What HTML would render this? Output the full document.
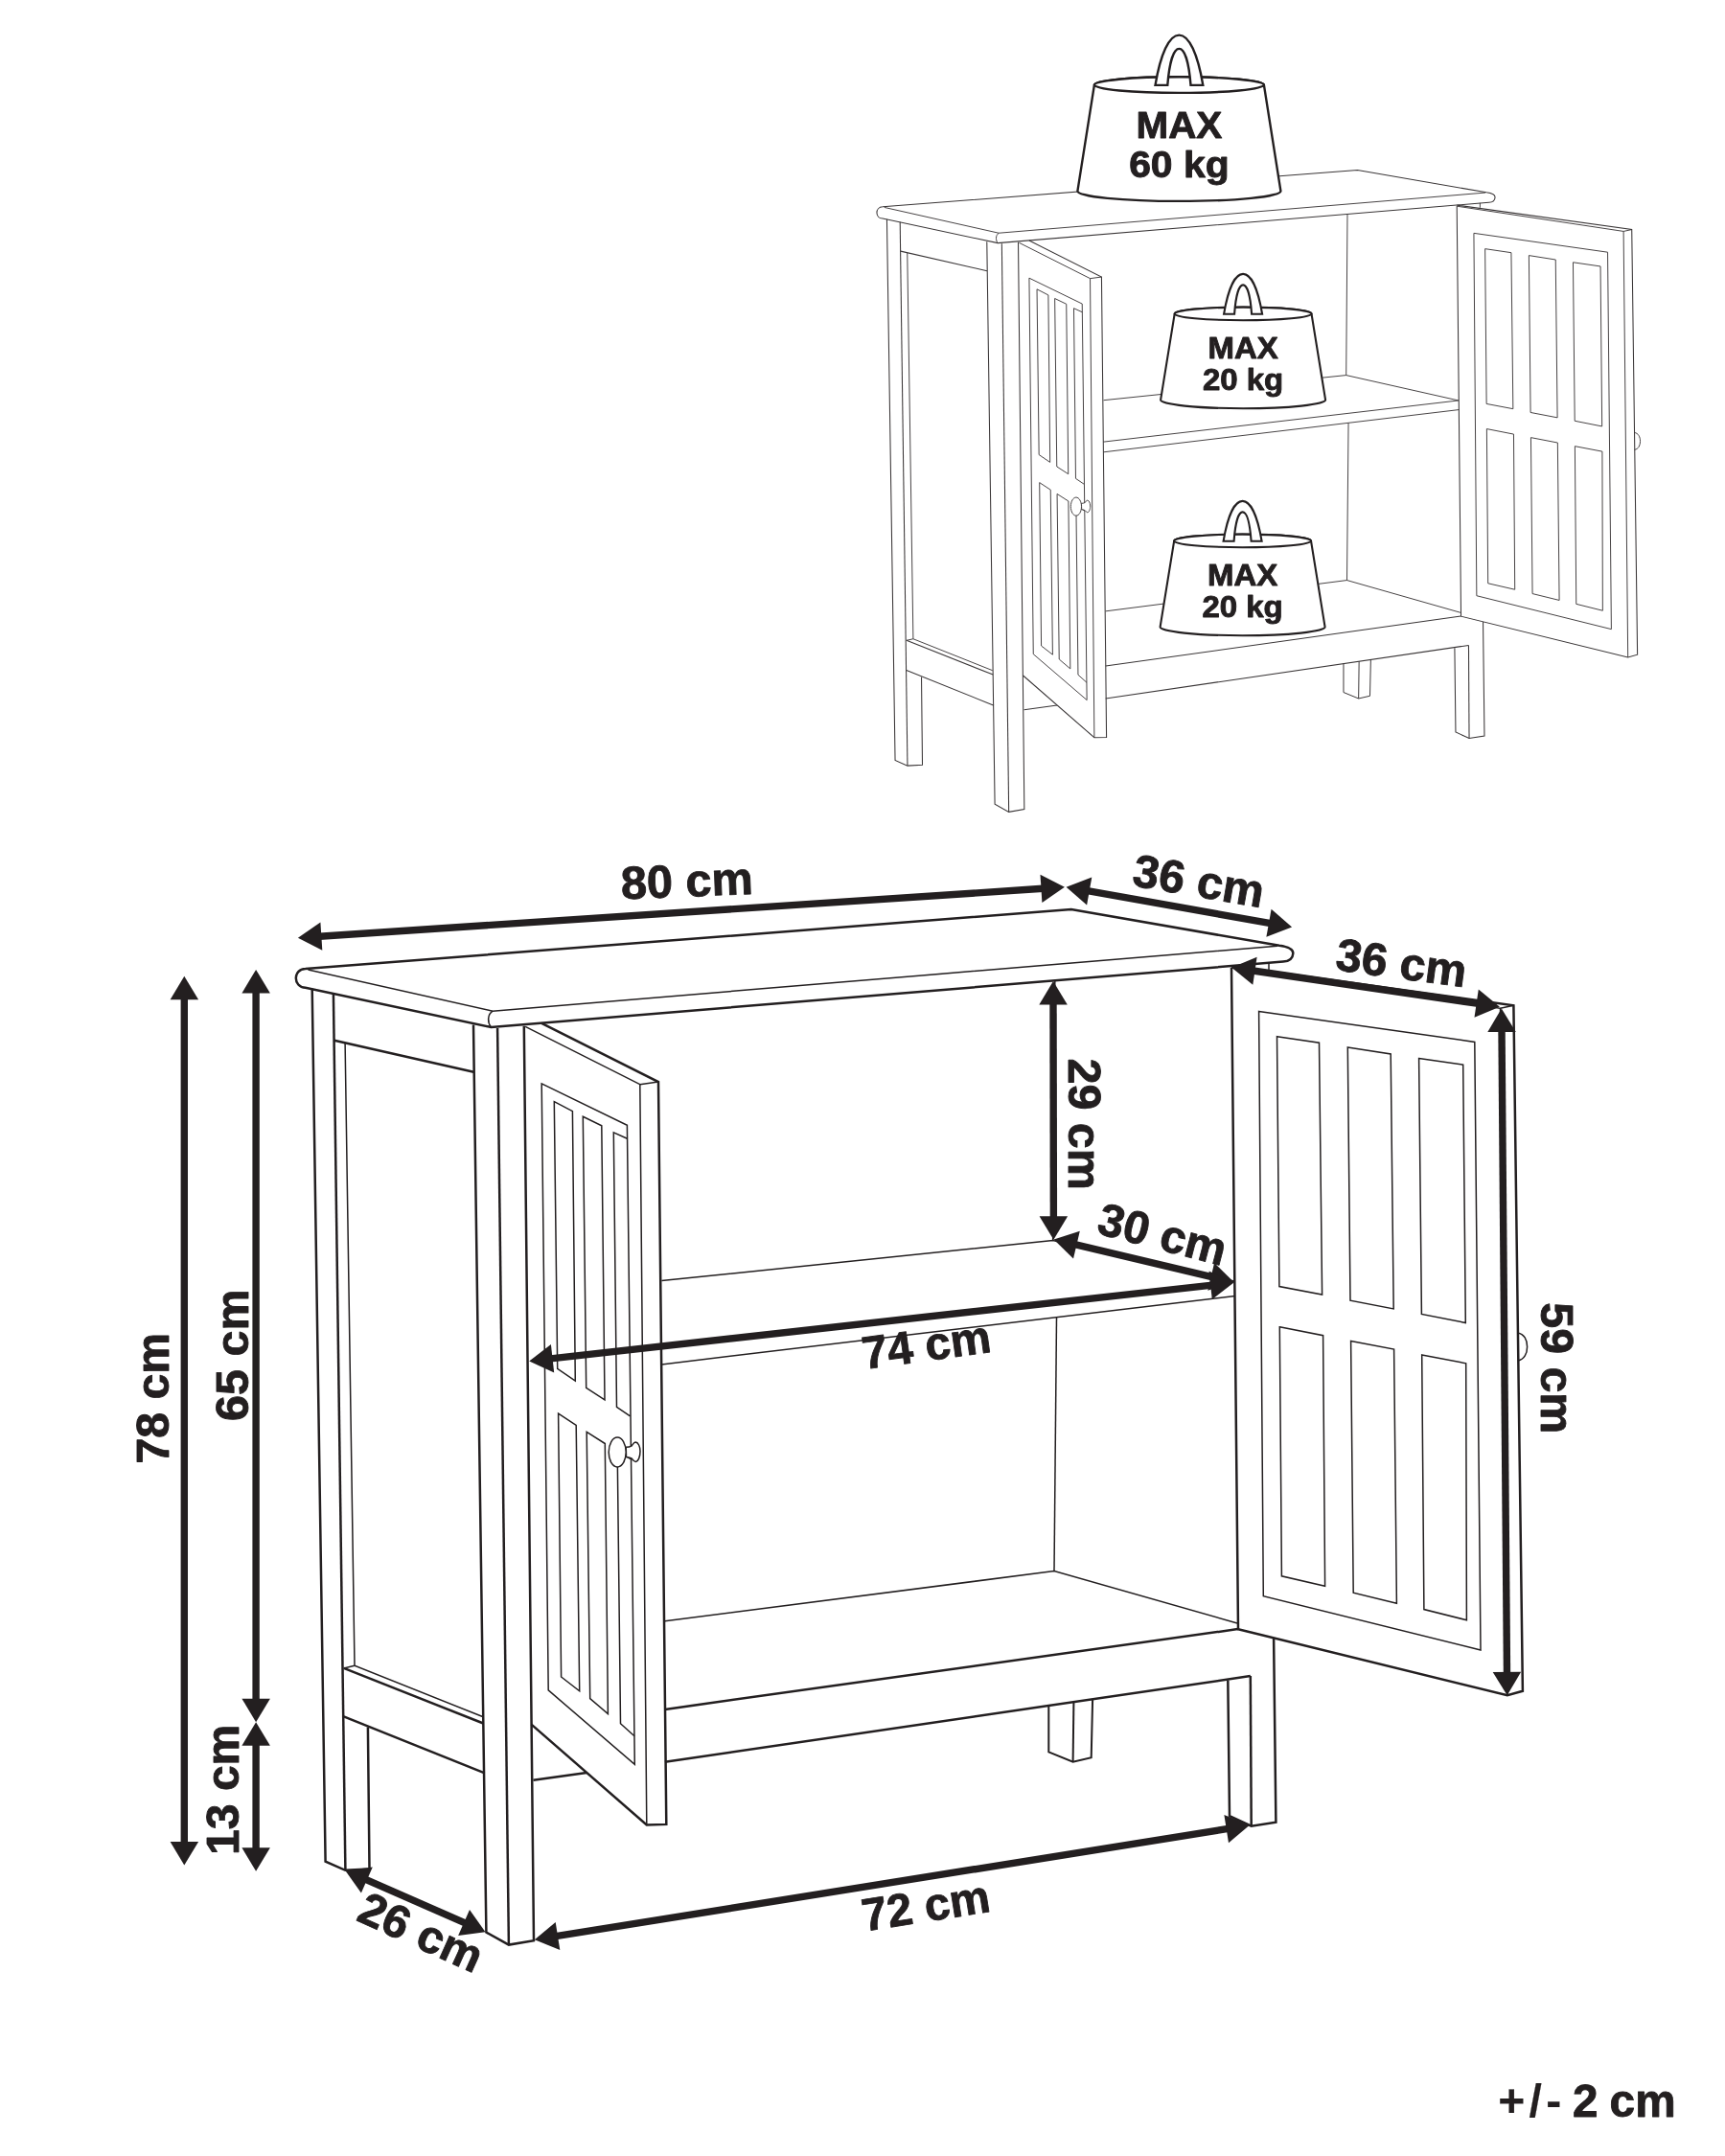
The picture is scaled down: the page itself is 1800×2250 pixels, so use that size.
<!DOCTYPE html>
<html lang="en">
<head>
<meta charset="utf-8">
<title>Cabinet dimensions</title>
<style>
html,body{margin:0;padding:0;background:#fff;}
body{width:1800px;height:2250px;overflow:hidden;}
svg{display:block;will-change:transform;}
</style>
</head>
<body>
<svg width="1800" height="2250" viewBox="0 0 1800 2250" font-family="'Liberation Sans', Arial, sans-serif" font-weight="bold" fill="#231f20">
<style>text{stroke:#231f20;stroke-width:0.9px;stroke-linejoin:round}</style>
<rect width="1800" height="2250" fill="#fff"/>
<!-- small cabinet -->
<g transform="translate(723.5,-411) scale(0.62)" fill="none" stroke="#3a3637" stroke-linejoin="miter" stroke-linecap="butt">
<path d="M318.7,1011.0 L1117.8,949.1 L1334.9,986.8 C1345,988.2 1349.5,990.5 1349.3,995 C1349,1000.5 1345,1003.2 1339.0,1003.6 L512.4,1072.0 L318.7,1030.8 C305.5,1030.3 305.5,1011.3 318.7,1011.0 Z" stroke-width="1.7" fill="#fff"/>
<path d="M321.5,1012.0 L514.0,1055.2 L1333.0,987.2" stroke-width="1.5" fill="none"/>
<path d="M514.0,1055.2 C508.5,1059 508.5,1067 512.4,1072.0" stroke-width="1.5" fill="none"/>
<path d="M325.7,1031.8 L339.6,1942.6 L360.4,1951.8 L385.5,1950.4 L383.9,1802.6" stroke-width="1.7" fill="none"/>
<path d="M347.9,1036.5 L360.4,1951.8" stroke-width="1.7" fill="none"/>
<path d="M348.8,1085.7 L494.3,1118.8" stroke-width="1.7" fill="none"/>
<path d="M360.1,1088.7 L370.0,1738.3 L503.6,1791.5" stroke-width="1.5" fill="none"/>
<path d="M358.7,1740.9 L370.0,1738.3" stroke-width="1.5" fill="none"/>
<path d="M358.7,1740.9 L504.3,1798.5" stroke-width="1.7" fill="none"/>
<path d="M358.7,1791.3 L505.7,1850.3" stroke-width="1.7" fill="none"/>
<path d="M494.0,1069.6 L507.4,2016.5 L530.9,2029.6 L557.0,2025.2 L546.8,1070.7" stroke-width="1.7" fill="none"/>
<path d="M519.1,1073.1 L530.9,2029.6" stroke-width="1.7" fill="none"/>
<path d="M548.2,1071.4 L667.8,1131.7 L674.8,1904.4" stroke-width="1.5" fill="none"/>
<path d="M667.8,1131.7 L687.0,1129.1" stroke-width="1.5" fill="none"/>
<path d="M565.2,1067.8 L687.0,1129.1 L695.3,1903.9 L674.8,1904.4 L554.5,1799.6" stroke-width="1.7" fill="none"/>
<path d="M565.2,1130.9 L654.4,1174.3 L662.3,1841.3 L572.2,1763.9 Z" stroke-width="1.5" fill="none"/>
<path d="M578.3,1149.7 L597.4,1159.6 L600.3,1441.0 L581.7,1428.3 Z" stroke-width="1.5" fill="none"/>
<path d="M608.3,1165.3 L627.8,1174.7 L631.0,1460.8 L611.7,1448.3 Z" stroke-width="1.5" fill="none"/>
<path d="M654.5,1188.3 L640.3,1181.8 L643.5,1468.3 L657.5,1477.8" stroke-width="1.5" fill="none"/>
<path d="M582.6,1475.2 L601.2,1487.4 L604.7,1764.8 L585.6,1750.0 Z" stroke-width="1.5" fill="none"/>
<path d="M612.2,1494.3 L631.3,1506.5 L634.4,1788.6 L615.7,1772.6 Z" stroke-width="1.5" fill="none"/>
<path d="M658.0,1522.5 L644.2,1514.0 L647.5,1798.7 L662.0,1811.7" stroke-width="1.5" fill="none"/>
<path d="M653.2,1510.3 C656,1510.2 658,1509.5 659.3,1508.8 C660.5,1507 661.5,1505.2 663,1505.1 C666,1505.2 668,1509.5 668,1514.6 C668,1520.5 666,1525.2 663.3,1525.4 C661.8,1525.3 660.5,1523.5 659.3,1522.2 C658,1521.2 656,1520.6 653.5,1520.4 Z" stroke-width="1.5" fill="#fff"/>
<path d="M644.2,1500.1 C649.2,1500.1 653.2,1507 653.2,1515.5 C653.2,1524 649.2,1530.9 644.2,1530.9 C639.2,1530.9 635.2,1524 635.2,1515.5 C635.2,1507 639.2,1500.1 644.2,1500.1 Z" stroke-width="1.5" fill="#fff"/>
<path d="M1100.8,1023.4 L1098.7,1294.5" stroke-width="1.5" fill="none"/>
<path d="M690.4,1336.6 L1098.7,1294.5 L1287.7,1337.0" stroke-width="1.5" fill="none"/>
<path d="M690.0,1406.7 L1287.7,1337.0" stroke-width="1.5" fill="none"/>
<path d="M690.4,1423.9 L1288.7,1352.5" stroke-width="1.5" fill="none"/>
<path d="M1102.5,1374.7 L1100.0,1639.6" stroke-width="1.5" fill="none"/>
<path d="M693.9,1691.7 L1100.0,1639.6 L1291.0,1694.0" stroke-width="1.5" fill="none"/>
<path d="M693.9,1783.9 L1291.7,1700.1" stroke-width="1.7" fill="none"/>
<path d="M556.5,1857.8 L612.2,1850.0" stroke-width="1.7" fill="none"/>
<path d="M693.9,1838.7 L1304.8,1749.1" stroke-width="1.7" fill="none"/>
<path d="M1094.3,1779.6 L1094.3,1828.3 L1119.6,1838.7 L1138.7,1834.3 L1140.1,1773.8" stroke-width="1.6" fill="none"/>
<path d="M1120.4,1776.1 L1119.6,1838.7" stroke-width="1.6" fill="none"/>
<path d="M1281.3,1753.5 L1283.0,1895.2 L1305.7,1905.7 L1331.4,1901.8 L1329.1,1709.6" stroke-width="1.7" fill="none"/>
<path d="M1304.8,1749.1 L1305.7,1905.7" stroke-width="1.7" fill="none"/>
<path d="M1324.0,1004.5 L1324.0,1012.5" stroke-width="1.5" fill="none"/>
<path d="M1285.3,1008.3 L1579.4,1049.3 L1588.9,1764.8 L1572.9,1769.3 L1292.0,1700.3 L1285.0,1009.7" stroke-width="1.7" fill="none"/>
<path d="M1285.0,1010.0 L1565.5,1052.3 L1572.9,1769.3" stroke-width="1.5" fill="none"/>
<path d="M1565.5,1052.3 L1579.4,1049.3" stroke-width="1.5" fill="none"/>
<path d="M1313.6,1055.4 L1538.8,1087.4 L1545.0,1722.0 L1318.3,1665.7 Z" stroke-width="1.5" fill="none"/>
<path d="M1332.5,1081.7 L1376.5,1088.2 L1379.6,1351.1 L1334.9,1342.6 Z" stroke-width="1.5" fill="none"/>
<path d="M1406.3,1092.9 L1451.2,1100.0 L1454.2,1365.9 L1409.0,1357.2 Z" stroke-width="1.5" fill="none"/>
<path d="M1480.6,1104.5 L1526.7,1111.2 L1529.3,1380.5 L1483.4,1371.4 Z" stroke-width="1.5" fill="none"/>
<path d="M1335.3,1384.8 L1380.6,1393.7 L1382.6,1655.2 L1337.4,1644.8 Z" stroke-width="1.5" fill="none"/>
<path d="M1409.6,1399.4 L1454.6,1408.1 L1457.4,1673.3 L1412.2,1662.2 Z" stroke-width="1.5" fill="none"/>
<path d="M1483.7,1414.0 L1529.7,1422.8 L1530.4,1690.7 L1485.9,1679.6 Z" stroke-width="1.5" fill="none"/>
<path d="M1583.6,1390.9 C1590.5,1392 1593.6,1398.5 1593.6,1405.4 C1593.6,1412.5 1590.5,1419 1584.0,1419.9" stroke-width="1.5" fill="none"/>
</g>
<!-- weights -->
<path d="M1141.9,88.6 L1124.4,199.4 A106.0,10.5 0 0 0 1336.4,199.4 L1318.9,88.6 A88.5,8.3 0 0 0 1141.9,88.6 Z" fill="#fff" stroke="#231f20" stroke-width="2.4" stroke-linejoin="round"/>
<ellipse cx="1230.4" cy="88.6" rx="88.5" ry="8.3" fill="#fff" stroke="#231f20" stroke-width="2.4"/>
<path d="M1205.5,88.9 C1211.0,56.5 1219.9,36.6 1230.4,36.6 C1240.9,36.6 1249.8,56.5 1255.3,88.9 L1242.5,88.9 C1240.7,66.1 1236.5,50.9 1230.4,50.9 C1224.4,50.9 1220.1,66.1 1218.3,88.9 Z" fill="#fff" stroke="#231f20" stroke-width="2.4" stroke-linejoin="miter"/>
<text x="1230.4" y="144.3" font-size="38" text-anchor="middle" textLength="89.7" lengthAdjust="spacingAndGlyphs">MAX</text>
<text x="1230.4" y="185.0" font-size="38" text-anchor="middle" textLength="104.5" lengthAdjust="spacingAndGlyphs">60 kg</text>
<path d="M1225.7,327.4 L1211.1,417.3 A86.0,8.9 0 0 0 1383.1,417.3 L1368.5,327.4 A71.4,6.8 0 0 0 1225.7,327.4 Z" fill="#fff" stroke="#231f20" stroke-width="2.1" stroke-linejoin="round"/>
<ellipse cx="1297.1" cy="327.4" rx="71.4" ry="6.8" fill="#fff" stroke="#231f20" stroke-width="2.1"/>
<path d="M1277.1,327.7 C1281.5,301.8 1288.7,285.9 1297.1,285.9 C1305.5,285.9 1312.7,301.8 1317.1,327.7 L1306.1,327.7 C1304.8,309.5 1301.6,297.4 1297.1,297.4 C1292.6,297.4 1289.4,309.5 1288.1,327.7 Z" fill="#fff" stroke="#231f20" stroke-width="2.1" stroke-linejoin="miter"/>
<text x="1297.1" y="373.6" font-size="31" text-anchor="middle" textLength="73.2" lengthAdjust="spacingAndGlyphs">MAX</text>
<text x="1297.1" y="407.1" font-size="31" text-anchor="middle" textLength="84.4" lengthAdjust="spacingAndGlyphs">20 kg</text>
<path d="M1225.2,564.4 L1210.6,654.3 A86.0,8.9 0 0 0 1382.6,654.3 L1368.0,564.4 A71.4,6.8 0 0 0 1225.2,564.4 Z" fill="#fff" stroke="#231f20" stroke-width="2.1" stroke-linejoin="round"/>
<ellipse cx="1296.6" cy="564.4" rx="71.4" ry="6.8" fill="#fff" stroke="#231f20" stroke-width="2.1"/>
<path d="M1276.6,564.7 C1281.0,538.8 1288.2,522.9 1296.6,522.9 C1305.0,522.9 1312.2,538.8 1316.6,564.7 L1305.6,564.7 C1304.2,546.5 1301.1,534.4 1296.6,534.4 C1292.1,534.4 1288.9,546.5 1287.6,564.7 Z" fill="#fff" stroke="#231f20" stroke-width="2.1" stroke-linejoin="miter"/>
<text x="1296.6" y="610.6" font-size="31" text-anchor="middle" textLength="73.2" lengthAdjust="spacingAndGlyphs">MAX</text>
<text x="1296.6" y="644.1" font-size="31" text-anchor="middle" textLength="84.4" lengthAdjust="spacingAndGlyphs">20 kg</text>
<!-- big cabinet -->
<g fill="none" stroke="#231f20" stroke-linejoin="miter" stroke-linecap="butt">
<path d="M318.7,1011.0 L1117.8,949.1 L1334.9,986.8 C1345,988.2 1349.5,990.5 1349.3,995 C1349,1000.5 1345,1003.2 1339.0,1003.6 L512.4,1072.0 L318.7,1030.8 C305.5,1030.3 305.5,1011.3 318.7,1011.0 Z" stroke-width="2.5" fill="#fff"/>
<path d="M321.5,1012.0 L514.0,1055.2 L1333.0,987.2" stroke-width="1.5" fill="none"/>
<path d="M514.0,1055.2 C508.5,1059 508.5,1067 512.4,1072.0" stroke-width="1.5" fill="none"/>
<path d="M325.7,1031.8 L339.6,1942.6 L360.4,1951.8 L385.5,1950.4 L383.9,1802.6" stroke-width="2.5" fill="none"/>
<path d="M347.9,1036.5 L360.4,1951.8" stroke-width="2.5" fill="none"/>
<path d="M348.8,1085.7 L494.3,1118.8" stroke-width="2.5" fill="none"/>
<path d="M360.1,1088.7 L370.0,1738.3 L503.6,1791.5" stroke-width="1.5" fill="none"/>
<path d="M358.7,1740.9 L370.0,1738.3" stroke-width="1.5" fill="none"/>
<path d="M358.7,1740.9 L504.3,1798.5" stroke-width="2.5" fill="none"/>
<path d="M358.7,1791.3 L505.7,1850.3" stroke-width="2.5" fill="none"/>
<path d="M494.0,1069.6 L507.4,2016.5 L530.9,2029.6 L557.0,2025.2 L546.8,1070.7" stroke-width="2.5" fill="none"/>
<path d="M519.1,1073.1 L530.9,2029.6" stroke-width="2.5" fill="none"/>
<path d="M548.2,1071.4 L667.8,1131.7 L674.8,1904.4" stroke-width="1.5" fill="none"/>
<path d="M667.8,1131.7 L687.0,1129.1" stroke-width="1.5" fill="none"/>
<path d="M565.2,1067.8 L687.0,1129.1 L695.3,1903.9 L674.8,1904.4 L554.5,1799.6" stroke-width="2.5" fill="none"/>
<path d="M565.2,1130.9 L654.4,1174.3 L662.3,1841.3 L572.2,1763.9 Z" stroke-width="1.5" fill="none"/>
<path d="M578.3,1149.7 L597.4,1159.6 L600.3,1441.0 L581.7,1428.3 Z" stroke-width="1.5" fill="none"/>
<path d="M608.3,1165.3 L627.8,1174.7 L631.0,1460.8 L611.7,1448.3 Z" stroke-width="1.5" fill="none"/>
<path d="M654.5,1188.3 L640.3,1181.8 L643.5,1468.3 L657.5,1477.8" stroke-width="1.5" fill="none"/>
<path d="M582.6,1475.2 L601.2,1487.4 L604.7,1764.8 L585.6,1750.0 Z" stroke-width="1.5" fill="none"/>
<path d="M612.2,1494.3 L631.3,1506.5 L634.4,1788.6 L615.7,1772.6 Z" stroke-width="1.5" fill="none"/>
<path d="M658.0,1522.5 L644.2,1514.0 L647.5,1798.7 L662.0,1811.7" stroke-width="1.5" fill="none"/>
<path d="M653.2,1510.3 C656,1510.2 658,1509.5 659.3,1508.8 C660.5,1507 661.5,1505.2 663,1505.1 C666,1505.2 668,1509.5 668,1514.6 C668,1520.5 666,1525.2 663.3,1525.4 C661.8,1525.3 660.5,1523.5 659.3,1522.2 C658,1521.2 656,1520.6 653.5,1520.4 Z" stroke-width="1.5" fill="#fff"/>
<path d="M644.2,1500.1 C649.2,1500.1 653.2,1507 653.2,1515.5 C653.2,1524 649.2,1530.9 644.2,1530.9 C639.2,1530.9 635.2,1524 635.2,1515.5 C635.2,1507 639.2,1500.1 644.2,1500.1 Z" stroke-width="1.5" fill="#fff"/>
<path d="M1100.8,1023.4 L1098.7,1294.5" stroke-width="1.5" fill="none"/>
<path d="M690.4,1336.6 L1098.7,1294.5 L1287.7,1337.0" stroke-width="1.5" fill="none"/>
<path d="M690.0,1406.7 L1287.7,1337.0" stroke-width="1.5" fill="none"/>
<path d="M690.4,1423.9 L1288.7,1352.5" stroke-width="1.5" fill="none"/>
<path d="M1102.5,1374.7 L1100.0,1639.6" stroke-width="1.5" fill="none"/>
<path d="M693.9,1691.7 L1100.0,1639.6 L1291.0,1694.0" stroke-width="1.5" fill="none"/>
<path d="M693.9,1783.9 L1291.7,1700.1" stroke-width="2.5" fill="none"/>
<path d="M556.5,1857.8 L612.2,1850.0" stroke-width="2.5" fill="none"/>
<path d="M693.9,1838.7 L1304.8,1749.1" stroke-width="2.5" fill="none"/>
<path d="M1094.3,1779.6 L1094.3,1828.3 L1119.6,1838.7 L1138.7,1834.3 L1140.1,1773.8" stroke-width="2.0" fill="none"/>
<path d="M1120.4,1776.1 L1119.6,1838.7" stroke-width="2.0" fill="none"/>
<path d="M1281.3,1753.5 L1283.0,1895.2 L1305.7,1905.7 L1331.4,1901.8 L1329.1,1709.6" stroke-width="2.5" fill="none"/>
<path d="M1304.8,1749.1 L1305.7,1905.7" stroke-width="2.5" fill="none"/>
<path d="M1324.0,1004.5 L1324.0,1012.5" stroke-width="1.5" fill="none"/>
<path d="M1285.3,1008.3 L1579.4,1049.3 L1588.9,1764.8 L1572.9,1769.3 L1292.0,1700.3 L1285.0,1009.7" stroke-width="2.5" fill="none"/>
<path d="M1285.0,1010.0 L1565.5,1052.3 L1572.9,1769.3" stroke-width="1.5" fill="none"/>
<path d="M1565.5,1052.3 L1579.4,1049.3" stroke-width="1.5" fill="none"/>
<path d="M1313.6,1055.4 L1538.8,1087.4 L1545.0,1722.0 L1318.3,1665.7 Z" stroke-width="1.5" fill="none"/>
<path d="M1332.5,1081.7 L1376.5,1088.2 L1379.6,1351.1 L1334.9,1342.6 Z" stroke-width="1.5" fill="none"/>
<path d="M1406.3,1092.9 L1451.2,1100.0 L1454.2,1365.9 L1409.0,1357.2 Z" stroke-width="1.5" fill="none"/>
<path d="M1480.6,1104.5 L1526.7,1111.2 L1529.3,1380.5 L1483.4,1371.4 Z" stroke-width="1.5" fill="none"/>
<path d="M1335.3,1384.8 L1380.6,1393.7 L1382.6,1655.2 L1337.4,1644.8 Z" stroke-width="1.5" fill="none"/>
<path d="M1409.6,1399.4 L1454.6,1408.1 L1457.4,1673.3 L1412.2,1662.2 Z" stroke-width="1.5" fill="none"/>
<path d="M1483.7,1414.0 L1529.7,1422.8 L1530.4,1690.7 L1485.9,1679.6 Z" stroke-width="1.5" fill="none"/>
<path d="M1583.6,1390.9 C1590.5,1392 1593.6,1398.5 1593.6,1405.4 C1593.6,1412.5 1590.5,1419 1584.0,1419.9" stroke-width="1.5" fill="none"/>
</g>
<!-- dimension arrows -->
<path d="M192.3,1041.3 L192.3,1923.9" stroke="#231f20" stroke-width="7.4" fill="none"/>
<path d="M192.3,1018.8 L177.6,1043.3 L207.1,1043.3 Z" fill="#231f20"/>
<path d="M192.3,1946.4 L177.6,1921.9 L207.1,1921.9 Z" fill="#231f20"/>
<path d="M267.1,1034.4 L267.1,1774.7" stroke="#231f20" stroke-width="7.4" fill="none"/>
<path d="M267.1,1011.9 L252.4,1036.4 L281.9,1036.4 Z" fill="#231f20"/>
<path d="M267.1,1797.2 L252.4,1772.7 L281.9,1772.7 Z" fill="#231f20"/>
<path d="M267.1,1819.7 L267.1,1930.3" stroke="#231f20" stroke-width="7.4" fill="none"/>
<path d="M267.1,1797.2 L252.4,1821.7 L281.9,1821.7 Z" fill="#231f20"/>
<path d="M267.1,1952.8 L252.4,1928.3 L281.9,1928.3 Z" fill="#231f20"/>
<path d="M333.4,977.2 L1088.4,927.3" stroke="#231f20" stroke-width="7.4" fill="none"/>
<path d="M310.9,978.7 L336.3,991.8 L334.4,962.4 Z" fill="#231f20"/>
<path d="M1110.9,925.8 L1087.4,942.1 L1085.5,912.7 Z" fill="#231f20"/>
<path d="M1134.8,929.7 L1325.9,963.7" stroke="#231f20" stroke-width="7.4" fill="none"/>
<path d="M1112.6,925.8 L1134.1,944.6 L1139.3,915.6 Z" fill="#231f20"/>
<path d="M1348.1,967.6 L1321.4,977.8 L1326.6,948.8 Z" fill="#231f20"/>
<path d="M1307.5,1013.0 L1542.6,1047.4" stroke="#231f20" stroke-width="7.4" fill="none"/>
<path d="M1285.2,1009.7 L1307.3,1027.8 L1311.6,998.7 Z" fill="#231f20"/>
<path d="M1564.9,1050.7 L1538.5,1061.7 L1542.8,1032.6 Z" fill="#231f20"/>
<path d="M1567.0,1075.0 L1572.5,1746.8" stroke="#231f20" stroke-width="7.4" fill="none"/>
<path d="M1566.8,1052.5 L1552.3,1077.1 L1581.8,1076.9 Z" fill="#231f20"/>
<path d="M1572.7,1769.3 L1557.7,1744.9 L1587.2,1744.7 Z" fill="#231f20"/>
<path d="M1099.0,1046.4 L1099.4,1271.3" stroke="#231f20" stroke-width="7.4" fill="none"/>
<path d="M1099.0,1023.9 L1084.3,1048.4 L1113.8,1048.4 Z" fill="#231f20"/>
<path d="M1099.4,1293.8 L1084.6,1269.3 L1114.1,1269.3 Z" fill="#231f20"/>
<path d="M1121.5,1298.7 L1265.6,1332.8" stroke="#231f20" stroke-width="7.4" fill="none"/>
<path d="M1099.6,1293.5 L1120.0,1313.5 L1126.8,1284.8 Z" fill="#231f20"/>
<path d="M1287.5,1338.0 L1260.3,1346.7 L1267.1,1318.0 Z" fill="#231f20"/>
<path d="M574.6,1417.9 L1265.1,1341.1" stroke="#231f20" stroke-width="7.4" fill="none"/>
<path d="M552.2,1420.4 L578.2,1432.4 L574.9,1403.0 Z" fill="#231f20"/>
<path d="M1287.5,1338.6 L1264.8,1356.0 L1261.5,1326.6 Z" fill="#231f20"/>
<path d="M580.0,2020.7 L1281.7,1908.4" stroke="#231f20" stroke-width="7.4" fill="none"/>
<path d="M557.8,2024.3 L584.3,2035.0 L579.7,2005.9 Z" fill="#231f20"/>
<path d="M1303.9,1904.8 L1282.0,1923.2 L1277.4,1894.1 Z" fill="#231f20"/>
<path d="M381.0,1961.2 L485.9,2007.2" stroke="#231f20" stroke-width="7.4" fill="none"/>
<path d="M360.4,1952.2 L376.9,1975.5 L388.8,1948.5 Z" fill="#231f20"/>
<path d="M506.5,2016.2 L478.1,2019.9 L490.0,1992.9 Z" fill="#231f20"/>
<!-- labels -->
<text transform="translate(176.3,1459.2) rotate(-90)" font-size="48" text-anchor="middle" textLength="136.6" lengthAdjust="spacingAndGlyphs">78 cm</text>
<text transform="translate(258.8,1414.2) rotate(-90)" font-size="48" text-anchor="middle" textLength="137.4" lengthAdjust="spacingAndGlyphs">65 cm</text>
<text transform="translate(248.7,1867.8) rotate(-90)" font-size="48" text-anchor="middle" textLength="136.1" lengthAdjust="spacingAndGlyphs">13 cm</text>
<text transform="translate(717.4,935.6) rotate(-2.2)" font-size="48" text-anchor="middle" textLength="138.1" lengthAdjust="spacingAndGlyphs">80 cm</text>
<text transform="translate(1248.2,935.6) rotate(9.7)" font-size="48" text-anchor="middle" textLength="137.7" lengthAdjust="spacingAndGlyphs">36 cm</text>
<text transform="translate(1460.2,1021.2) rotate(7.7)" font-size="48" text-anchor="middle" textLength="136.9" lengthAdjust="spacingAndGlyphs">36 cm</text>
<text transform="translate(1607.8,1427.8) rotate(90)" font-size="48" text-anchor="middle" textLength="137.1" lengthAdjust="spacingAndGlyphs">59 cm</text>
<text transform="translate(1114.5,1173.2) rotate(90)" font-size="48" text-anchor="middle" textLength="137.6" lengthAdjust="spacingAndGlyphs">29 cm</text>
<text transform="translate(1209.0,1303.9) rotate(14.6)" font-size="48" text-anchor="middle" textLength="136.4" lengthAdjust="spacingAndGlyphs">30 cm</text>
<text transform="translate(968.8,1419.9) rotate(-7.8)" font-size="48" text-anchor="middle" textLength="134.8" lengthAdjust="spacingAndGlyphs">74 cm</text>
<text transform="translate(968.5,2005.1) rotate(-9.0)" font-size="48" text-anchor="middle" textLength="134.4" lengthAdjust="spacingAndGlyphs">72 cm</text>
<text transform="translate(432.6,2031.5) rotate(24.3)" font-size="48" text-anchor="middle" textLength="136.3" lengthAdjust="spacingAndGlyphs">26 cm</text>
<text y="2208.7" font-size="48"><tspan x="1563.2" textLength="66.0" lengthAdjust="spacing" style="stroke-width:0.2px">+/-</tspan> <tspan x="1641.0" textLength="26.5" lengthAdjust="spacingAndGlyphs">2</tspan> <tspan x="1679.6" textLength="69.0" lengthAdjust="spacingAndGlyphs">cm</tspan></text>
</svg>
</body>
</html>
